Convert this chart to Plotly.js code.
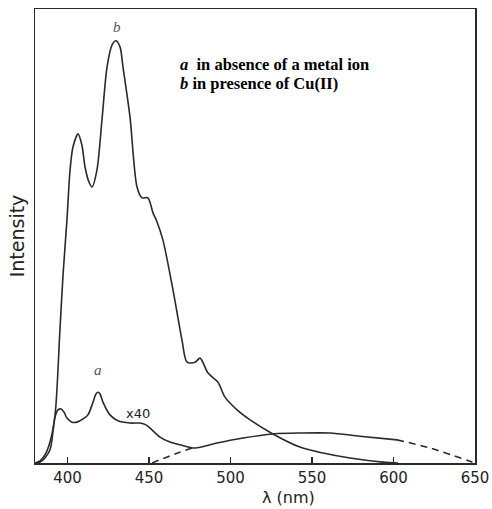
<!DOCTYPE html>
<html>
<head>
<meta charset="utf-8">
<script src="https://cdn.plot.ly/plotly-3.0.1.min.js"></script>
<style>html,body{margin:0;padding:0;background:#fff;}#chart{width:492px;height:509px;}</style>
</head>
<body>
<div id="chart"></div>
<script>
// Curve b: in presence of Cu(II)
const bWavelength = [380,383.1,386.1,389.2,392.3,395.3,397.2,399.6,401.5,403.3,406.4,408.8,410.7,413.1,415.0,418.0,421.1,424.2,427.3,429.7,432.2,434.0,438.3,442.6,445.7,449.3,452.4,454.9,458.5,464.7,470.2,473.3,478.2,481.3,486.2,492.3,496.6,504.0,512.0,526.0,542.6,556.7,573.3,593.5,602.7];
const bIntensity  = [0,0.44,1.76,4.63,10.57,29.3,41.4,53.5,64.5,69.6,72.5,70.0,65.2,61.9,60.8,64.5,75.6,87.2,92.1,93.0,91.6,87.2,76.2,60.8,58.4,58.4,55.1,53.1,49.1,38.1,27.1,22.2,22.2,23.1,19.8,17.8,14.5,11.7,9.5,6.4,3.5,2.2,1.1,0.2,0];

// Curve a: in absence of a metal ion (x40), solid part
const aWavelength = [380,383.1,386.1,389.2,390.4,392.3,394.1,396.0,397.8,399.6,402.7,405.8,409.5,412.5,415.6,417.4,418.7,419.9,421.7,426.0,430.9,438.3,444.4,448.1,451.8,456.7,462.8,469.0,478.2,491.7,507.6,526.0,542.6,561.0,579.4,602.1];
const aIntensity  = [0,0.2,1.1,2.9,5.1,10.1,11.7,11.9,11.2,9.9,9.0,9.0,9.7,10.6,13.4,15.2,15.6,15.2,13.4,10.6,9.3,8.8,8.8,8.4,7.3,5.7,4.6,4.0,3.3,4.4,5.5,6.4,6.6,6.6,5.9,5.1];

// Dashed extrapolations of the broad band of curve a
const aTailWavelength = [602.1,622.4,637.7,646.9,650];
const aTailIntensity  = [5.1,3.3,1.5,0.4,0];
const aHeadWavelength = [451.8,465.9,478.2];
const aHeadIntensity  = [0,2.0,3.5];

const tickValues = [400,450,500,550,600,650];
const tickLabels = ['400','450','500','550','600','650'];

const lineColor = '#2a2a2a';
const traces = [
  {x: bWavelength, y: bIntensity, mode: 'lines', line: {color: lineColor, width: 1.6, shape: 'spline', smoothing: 0.8}, name: 'b', hoverinfo: 'skip'},
  {x: aWavelength, y: aIntensity, mode: 'lines', line: {color: lineColor, width: 1.6, shape: 'spline', smoothing: 0.8}, name: 'a', hoverinfo: 'skip'},
  {x: aTailWavelength, y: aTailIntensity, mode: 'lines', line: {color: lineColor, width: 1.6, dash: '7px,5px', shape: 'spline'}, name: 'a tail', hoverinfo: 'skip'},
  {x: aHeadWavelength, y: aHeadIntensity, mode: 'lines', line: {color: lineColor, width: 1.6, dash: '7px,5px', shape: 'spline'}, name: 'a head', hoverinfo: 'skip'}
];

const layout = {
  width: 492, height: 509,
  margin: {l: 35, r: 17, t: 9, b: 46},
  paper_bgcolor: '#ffffff', plot_bgcolor: '#ffffff',
  showlegend: false,
  xaxis: {
    range: [380, 650], tickvals: tickValues, ticktext: tickLabels,
    ticks: 'inside', ticklen: 6, tickwidth: 1.5, tickcolor: lineColor,
    showline: true, linecolor: lineColor, linewidth: 1.5, mirror: true,
    showgrid: false, zeroline: false,
    tickfont: {family: 'DejaVu Sans', size: 15, color: '#222'}
  },
  yaxis: {
    range: [0, 100], showticklabels: false, ticks: '',
    showline: true, linecolor: lineColor, linewidth: 1.5, mirror: true,
    showgrid: false, zeroline: false,
    title: {text: 'Intensity', font: {family: 'DejaVu Sans', size: 19, color: '#222'}, standoff: 4}
  },
  annotations: [
    {x: 0.575, y: -0.077, xref: 'paper', yref: 'paper', yanchor: 'middle', text: 'λ (nm)', showarrow: false, font: {family: 'DejaVu Sans', size: 16, color: '#222'}},
    {x: 430.3, y: 96.0, xref: 'x', yref: 'y', text: '<i>b</i>', showarrow: false, font: {family: 'Liberation Serif', size: 15, color: '#555'}},
    {x: 418.7, y: 20.5, xref: 'x', yref: 'y', text: '<i>a</i>', showarrow: false, font: {family: 'Liberation Serif', size: 15, color: '#555'}},
    {x: 443.2, y: 11.0, xref: 'x', yref: 'y', text: 'x40', showarrow: false, font: {family: 'DejaVu Sans', size: 13, color: '#222'}},
    {x: 0.325, y: 0.877, xref: 'paper', yref: 'paper', xanchor: 'left', yanchor: 'middle', text: '<b><i>a</i>\u00a0\u00a0in absence of a metal ion</b>', showarrow: false, font: {family: 'Liberation Serif', size: 16.5, color: '#000'}},
    {x: 0.325, y: 0.837, xref: 'paper', yref: 'paper', xanchor: 'left', yanchor: 'middle', text: '<b><i>b</i> in presence of Cu(II)</b>', showarrow: false, font: {family: 'Liberation Serif', size: 16.5, color: '#000'}}
  ]
};

Plotly.newPlot('chart', traces, layout, {displayModeBar: false, staticPlot: true});
</script>
</body>
</html>
